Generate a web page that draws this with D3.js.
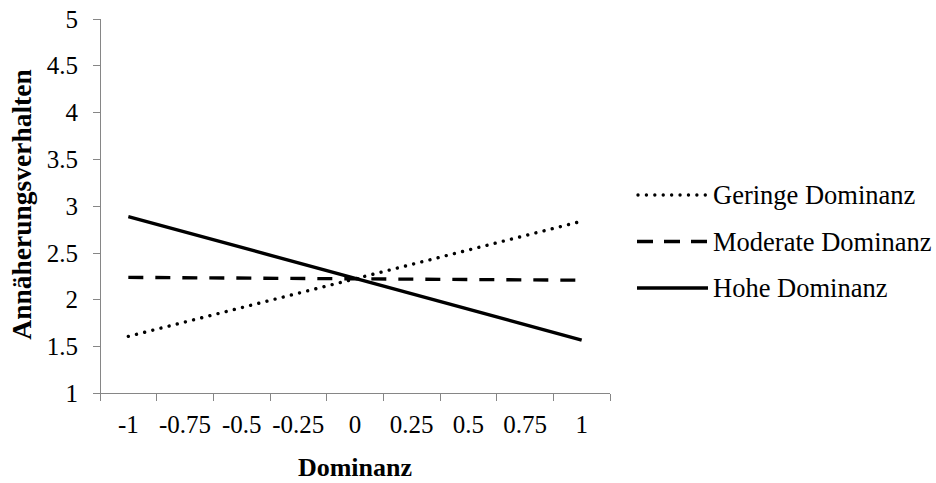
<!DOCTYPE html>
<html>
<head>
<meta charset="utf-8">
<script src="https://cdn.jsdelivr.net/npm/d3@7/dist/d3.min.js"></script>
<style>
  html, body { margin: 0; padding: 0; background: #fff; }
  svg { display: block; }
  text { font-family: "Liberation Serif", "Times New Roman", serif; fill: #000; }
</style>
</head>
<body>
<svg id="chart" width="936" height="483"></svg>
<script>
// ---- data ----
const categories = ["-1", "-0.75", "-0.5", "-0.25", "0", "0.25", "0.5", "0.75", "1"];
const yTicks = [1, 1.5, 2, 2.5, 3, 3.5, 4, 4.5, 5];
const seriesNames = ["Geringe Dominanz", "Moderate Dominanz", "Hohe Dominanz"];
const geringe  = [1.61, null, null, null, null, null, null, null, 2.84];
const moderate = [2.24, null, null, null, null, null, null, null, 2.21];
const hohe     = [2.89, null, null, null, null, null, null, null, 1.57];
const xTitle = "Dominanz";
const yTitle = "Annäherungsverhalten";

const seriesValues = [geringe, moderate, hohe];
const styles = [
  { dash: "0.01 8.4", cap: "round", width: 3.4 },
  { dash: "15 12", cap: "butt", width: 3.4 },
  { dash: null, cap: "butt", width: 3.4 }
];

const svg = d3.select("#chart");
const axisColor = "#868686";

const x = d3.scaleBand().domain(categories).range([100, 610]).paddingInner(0).paddingOuter(0);
const y = d3.scaleLinear().domain([1, 5]).range([393.5, 19]);

// y axis
svg.append("line").attr("x1", 100).attr("x2", 100).attr("y1", y(5)).attr("y2", y(1))
  .attr("stroke", axisColor).attr("stroke-width", 1).attr("shape-rendering", "crispEdges");
yTicks.forEach(t => {
  svg.append("line").attr("x1", 93).attr("x2", 100).attr("y1", y(t)).attr("y2", y(t))
    .attr("stroke", axisColor).attr("stroke-width", 1).attr("shape-rendering", "crispEdges");
  svg.append("text").attr("x", 78).attr("y", y(t) + 8.5).attr("text-anchor", "end")
    .attr("font-size", 25).text(String(t));
});

// x axis
svg.append("line").attr("x1", 93).attr("x2", 610).attr("y1", y(1)).attr("y2", y(1))
  .attr("stroke", axisColor).attr("stroke-width", 1).attr("shape-rendering", "crispEdges");
const bounds = categories.map(c => x(c)).concat([x(categories[categories.length - 1]) + x.bandwidth()]);
bounds.forEach(b => {
  svg.append("line").attr("x1", b).attr("x2", b).attr("y1", y(1)).attr("y2", y(1) + 7)
    .attr("stroke", axisColor).attr("stroke-width", 1).attr("shape-rendering", "crispEdges");
});
categories.forEach(c => {
  svg.append("text").attr("x", x(c) + x.bandwidth() / 2).attr("y", 433)
    .attr("text-anchor", "middle").attr("font-size", 25).text(c);
});

// titles
svg.append("text").attr("x", 355).attr("y", 476).attr("text-anchor", "middle")
  .attr("font-size", 26).attr("font-weight", "bold").text(xTitle);
svg.append("text").attr("transform", `translate(31,204.5) rotate(-90)`)
  .attr("text-anchor", "middle").attr("font-size", 27.5).attr("font-weight", "bold").text(yTitle);

// lines
const line = d3.line()
  .x(d => x(d.c) + x.bandwidth() / 2)
  .y(d => y(d.v));
seriesValues.forEach((vals, i) => {
  const pts = categories.map((c, j) => ({ c, v: vals[j] })).filter(d => d.v !== null);
  const p = svg.append("path").attr("d", line(pts)).attr("fill", "none")
    .attr("stroke", "#000").attr("stroke-width", styles[i].width)
    .attr("stroke-linecap", styles[i].cap).attr("stroke-linejoin", "round");
  if (styles[i].dash) p.attr("stroke-dasharray", styles[i].dash);
});

// legend
const legendY = [195, 241.5, 288];
seriesNames.forEach((name, i) => {
  const ly = legendY[i];
  const l = svg.append("line").attr("x1", i === 0 ? 638 : 637).attr("x2", 708).attr("y1", ly).attr("y2", ly)
    .attr("stroke", "#000").attr("stroke-width", styles[i].width).attr("stroke-linecap", styles[i].cap);
  if (styles[i].dash) l.attr("stroke-dasharray", i === 1 ? "16 11" : styles[i].dash);
  svg.append("text").attr("x", 713).attr("y", ly + 9).attr("font-size", 26.5).text(name);
});
</script>
</body>
</html>
